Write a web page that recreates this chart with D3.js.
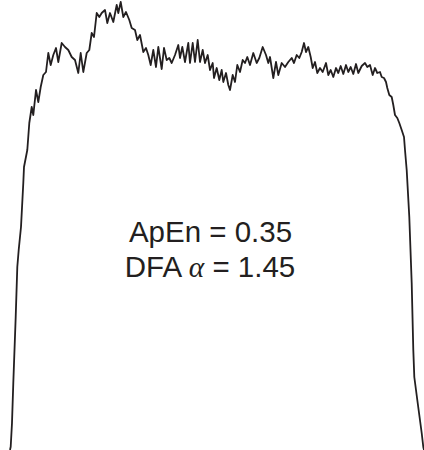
<!DOCTYPE html>
<html>
<head>
<meta charset="utf-8">
<script src="https://cdn.jsdelivr.net/npm/d3@7"></script>
<style>
  html, body { margin: 0; padding: 0; background: #fff; }
  svg { display: block; }
</style>
</head>
<body>
<div id="chart"></div>
<script>
// Sample position (arbitrary units) and signal amplitude
const sample = [
  10, 10.7, 12, 13.3, 15.7, 17.3, 18.7, 21, 23.3, 24, 27.3, 29.3, 31.7, 33.3, 36, 38.3, 40.7, 43.3, 46, 48.3,
  50.7, 53.3, 56, 58.3, 61.7, 65, 68.3, 71.7, 75, 78.3, 80.7, 83.3, 86.7, 89.3, 91.7, 94, 96.7, 99.3, 101.7, 105,
  107.3, 110, 113.3, 116.7, 118.3, 120.7, 123.3, 126, 129.3, 131.7, 135, 137.3, 140, 143.3, 146, 148.3, 150.7, 153.3, 156, 158.3,
  161.7, 164, 166.7, 169.3, 171.7, 175, 178.3, 180, 182.3, 185, 188.3, 190, 192.7, 195, 197.7, 200, 202.7, 205, 207.7, 210,
  212.7, 214, 216.7, 219.3, 221.7, 223.3, 226, 228.3, 230, 232.7, 235, 237.3, 240, 242.7, 245, 247.3, 250, 253.3, 256.7, 259.3,
  262.7, 266, 268.3, 270, 273.3, 276, 278.3, 281.7, 285, 288.3, 291.7, 294, 296.7, 299.3, 301.7, 304, 306, 308.3, 310.7, 312.7,
  315, 317.3, 320, 322.7, 326, 328.3, 330.7, 333.3, 336, 338.3, 340.7, 343.3, 346, 348.3, 350.7, 353.3, 356, 358.3, 361.7, 365,
  367.3, 370, 372.7, 375, 377.3, 380, 381.7, 384, 386, 387.3, 389.3, 391.7, 393.3, 395, 397.3, 399.3, 401.7, 404, 405, 406.7,
  409.3, 411.7, 413.3, 414.3, 417.3, 421.7, 423.3, 424
];
const amplitude = [
  0, 3.3, 27, 67, 133, 183, 200, 223, 267, 283, 300, 327, 343, 335, 360, 348, 363, 375, 378, 397,
  385, 395, 402, 388, 407, 403, 400, 393, 390, 377, 397, 378, 397, 400, 417, 413, 437, 433, 437, 440,
  427, 437, 428, 445, 437, 448, 433, 438, 430, 422, 420, 410, 415, 398, 402, 395, 385, 400, 383, 403,
  381, 402, 390, 392, 387, 395, 405, 392, 403, 388, 407, 387, 407, 388, 410, 388, 400, 387, 395, 380,
  387, 372, 382, 370, 380, 368, 377, 365, 360, 375, 368, 385, 378, 390, 387, 393, 385, 397, 387, 392,
  403, 395, 387, 393, 372, 388, 375, 387, 383, 388, 392, 387, 395, 392, 398, 407, 398, 403, 393, 382,
  388, 377, 382, 378, 387, 375, 380, 373, 382, 377, 384, 376, 385, 378, 383, 376, 386, 377, 384, 387,
  383, 385, 375, 382, 377, 378, 373, 372, 368, 362, 355, 353, 345, 335, 332, 327, 320, 313, 300, 280,
  233, 167, 100, 73, 50, 17, 3, 0
];
const labels = ["ApEn = 0.35", ["DFA ", "\u03b1", " = 1.45"]];

const width = 424;
const height = 450;
const ink = "#231f20";

const x = d3.scaleLinear().domain([0, 424]).range([0, width]);
const y = d3.scaleLinear().domain([0, 450]).range([height, 0]);

const svg = d3.select("#chart").append("svg")
  .attr("width", width)
  .attr("height", height)
  .attr("viewBox", [0, 0, width, height]);

const points = sample.map((s, i) => [s, amplitude[i]]);

const line = d3.line()
  .x((d) => x(d[0]))
  .y((d) => y(d[1]));

svg.append("path")
  .datum(points)
  .attr("fill", "none")
  .attr("stroke", ink)
  .attr("stroke-width", 1.8)
  .attr("stroke-linejoin", "round")
  .attr("d", line);

// Annotation
const text = svg.append("g")
  .attr("font-family", "'Liberation Sans', Arial, sans-serif")
  .attr("font-size", 29.5)
  .attr("fill", ink)
  .attr("text-anchor", "middle");

text.append("text")
  .attr("x", 210.5)
  .attr("y", 242)
  .text(labels[0]);

const t2 = text.append("text")
  .attr("x", 210)
  .attr("y", 277);
t2.append("tspan").text(labels[1][0]);
t2.append("tspan")
  .attr("font-family", "'Liberation Serif', 'DejaVu Serif', serif")
  .attr("font-style", "italic")
  .text(labels[1][1]);
t2.append("tspan").text(labels[1][2]);
</script>
</body>
</html>
